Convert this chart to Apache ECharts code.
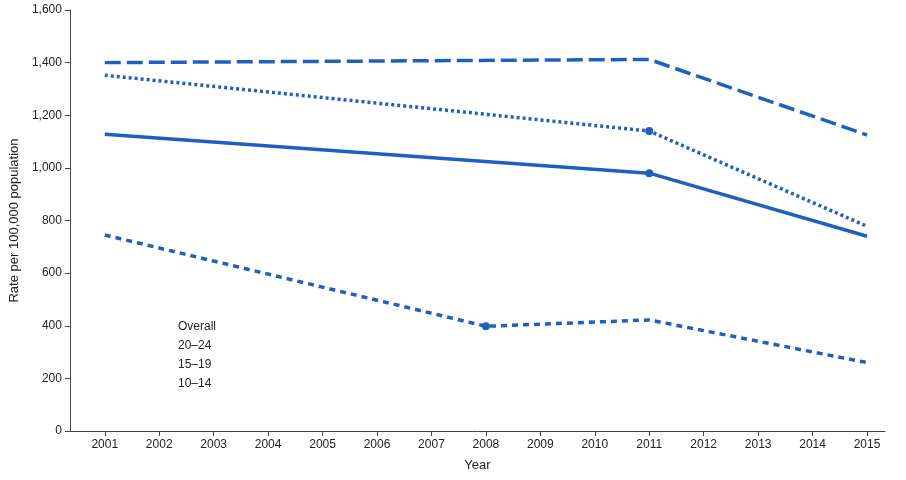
<!DOCTYPE html>
<html><head><meta charset="utf-8">
<script src="https://cdn.jsdelivr.net/npm/echarts@6/dist/echarts.min.js"></script>
<style>html,body{margin:0;padding:0;background:#fff}#c{width:906px;height:480px}</style>
</head><body><div id="c"></div>
<script>
const years = [2001,2002,2003,2004,2005,2006,2007,2008,2009,2010,2011,2012,2013,2014,2015];
const overall = [[2001,1128],[2011,980],[2015,740]];
const age2024 = [[2001,1400],[2011,1412],[2015,1125]];
const age1519 = [[2001,1352],[2011,1140],[2015,778]];
const age1014 = [[2001,745],[2008,398],[2011,422],[2015,260]];
const markOverall = [[2011,980]];
const mark1519 = [[2011,1140]];
const mark1014 = [[2008,398]];
const C = '#1f5fbf';
const font = 'Liberation Sans Narrow, Liberation Sans, sans-serif';
function line(name, data, type, mark){
  return {name, type:'line', data, symbol:'circle', symbolSize:(v)=>mark.some(m=>m[0]===v[0])?8:0,
    showSymbol:true, itemStyle:{color:C}, lineStyle:{color:C,width:3.5,type}, emphasis:{disabled:true}};
}
const chart = echarts.init(document.getElementById('c'));
chart.setOption({
  animation:false,
  grid:{left:62,right:21,top:10,bottom:49},
  legend:{orient:'vertical',left:128,top:315,itemGap:6,itemWidth:40,itemHeight:14,
    textStyle:{fontFamily:font,fontSize:12,color:'#222'},icon:'none',
    data:['Overall','20–24','15–19','10–14']},
  xAxis:{type:'value',min:2000.36,max:2015.33,name:'Year',nameLocation:'middle',nameGap:28,
    nameTextStyle:{fontFamily:font,fontSize:13,color:'#222'},
    axisLine:{lineStyle:{color:'#444'}},splitLine:{show:false},
    axisTick:{customValues:years,lineStyle:{color:'#444'}},
    axisLabel:{customValues:years,fontFamily:font,fontSize:12,color:'#222',formatter:v=>String(v)}},
  yAxis:{type:'value',min:0,max:1600,interval:200,name:'Rate per 100,000 population',nameLocation:'middle',nameGap:44,
    nameTextStyle:{fontFamily:font,fontSize:13,color:'#222'},
    axisLine:{show:true,lineStyle:{color:'#444'}},axisTick:{show:true,lineStyle:{color:'#444'}},splitLine:{show:false},
    axisLabel:{fontFamily:font,fontSize:12,color:'#222',formatter:v=>v.toLocaleString('en-US')}},
  series:[
    line('Overall',overall,'solid',markOverall),
    line('20–24',age2024,[16,6],[]),
    line('15–19',age1519,[3,3],mark1519),
    line('10–14',age1014,[6,5],mark1014)
  ]
});
</script></body></html>
